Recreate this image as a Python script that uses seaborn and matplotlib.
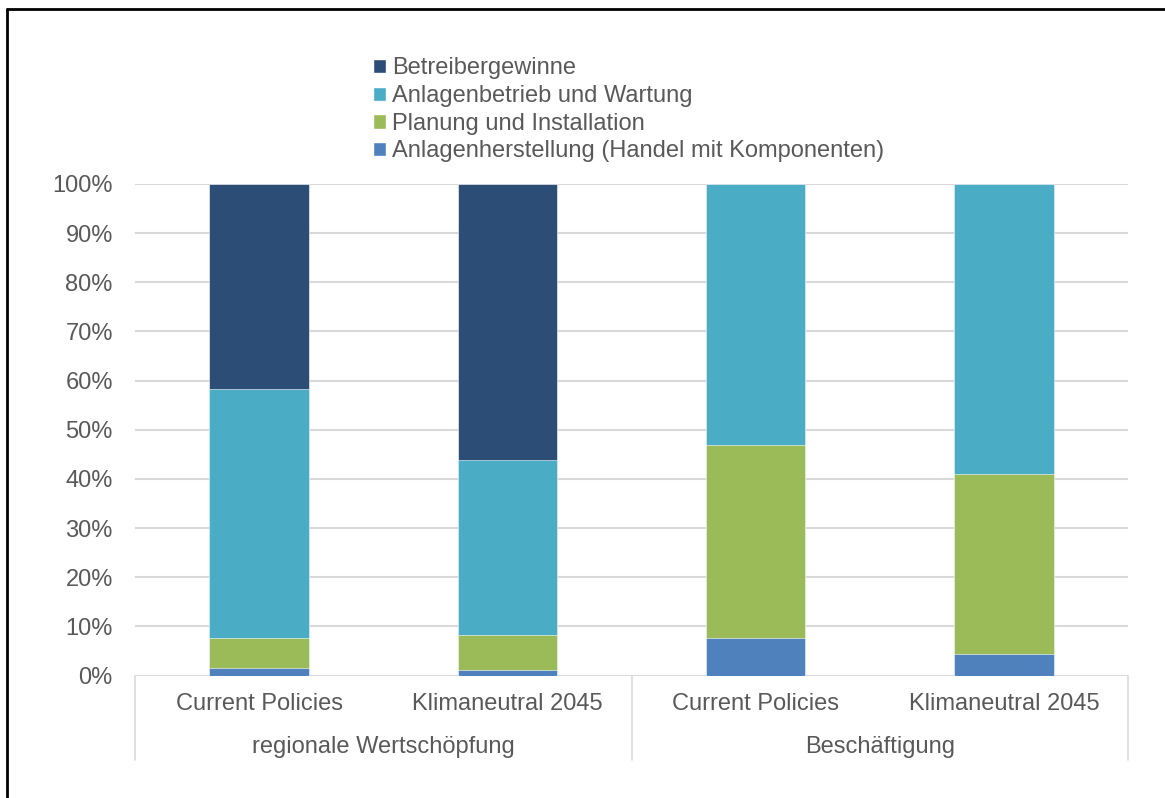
import numpy as np
import pandas as pd
import matplotlib.pyplot as plt
import seaborn as sns
from matplotlib.patches import Patch
from matplotlib.lines import Line2D

szenarien = ["Current Policies", "Klimaneutral 2045", "Current Policies ", "Klimaneutral 2045 "]
gruppen = ["regionale Wertschöpfung", "Beschäftigung"]
herstellung = [1.5, 1.1, 7.6, 4.4]
planung = [6.2, 7.2, 39.3, 36.6]
betrieb = [50.5, 35.6, 53.1, 59.0]
gewinne = [41.8, 56.1, 0.0, 0.0]
reihen = ["Anlagenherstellung (Handel mit Komponenten)", "Planung und Installation",
          "Anlagenbetrieb und Wartung", "Betreibergewinne"]
farben = ["#4F81BD", "#9BBB59", "#4BACC6", "#2C4D75"]

sns.set_theme(style="white")
plt.rcParams["font.family"] = ["Liberation Sans", "DejaVu Sans"]
grau = "#595959"

fig = plt.figure(figsize=(11.65, 7.98), dpi=100)
ax = fig.add_axes([135 / 1165, 1 - 675.5 / 798, (1128 - 135) / 1165, (675.5 - 184) / 798])

werte = np.array([herstellung, planung, betrieb, gewinne])
kum = np.cumsum(werte, axis=0)
df = pd.DataFrame({"szenario": szenarien})
# tallest stack first so the lower segments sit on top of it
for i in range(3, -1, -1):
    df["wert"] = kum[i]
    sns.barplot(data=df, x="szenario", y="wert", color=farben[i], width=0.4,
                saturation=1, edgecolor="white", linewidth=0.4, ax=ax, zorder=3)

ax.set_xlim(-0.5, 3.5)
ax.set_ylim(0, 100)
ax.set_yticks(np.arange(0, 101, 10))
ax.set_yticklabels([f"{v}%" for v in range(0, 101, 10)], fontsize=17, color=grau)
ax.tick_params(axis="y", pad=16, length=0)
ax.set_xticks([])
ax.set_xlabel("")
ax.set_ylabel("")
ax.grid(axis="y", color="#D9D9D9", linewidth=1.5, zorder=0)
for s in ax.spines.values():
    s.set_visible(False)

tr = ax.get_xaxis_transform()
for i, lab in enumerate(szenarien):
    ax.text(i, -0.059, lab.strip(), transform=tr, ha="center", va="center",
            fontsize=17, color=grau)
for j, g in enumerate(gruppen):
    ax.text(0.5 + 2 * j, -0.1454, g, transform=tr, ha="center", va="center",
            fontsize=17, color=grau)
for x in [-0.5, 1.5, 3.5]:
    ax.add_line(Line2D([x, x], [0, -0.171], transform=tr, color="#D9D9D9",
                       linewidth=1.2, clip_on=False))

handles = [Patch(facecolor=farben[i], label=reihen[i]) for i in range(3, -1, -1)]
fig.legend(handles=handles, loc="upper left", bbox_to_anchor=(364 / 1165, 1 - 48 / 798),
           frameon=False, fontsize=17, labelcolor=grau, handlelength=0.55, handleheight=0.55,
           handletextpad=0.25, labelspacing=0.24, borderaxespad=0)

fig.add_artist(Line2D([7 / 1165, 1.01], [1 - 9 / 798, 1 - 9 / 798], color="black", linewidth=2))
fig.add_artist(Line2D([7 / 1165, 7 / 1165], [1 - 9 / 798, -0.01], color="black", linewidth=2))

fig.savefig("out.png", dpi=100)
